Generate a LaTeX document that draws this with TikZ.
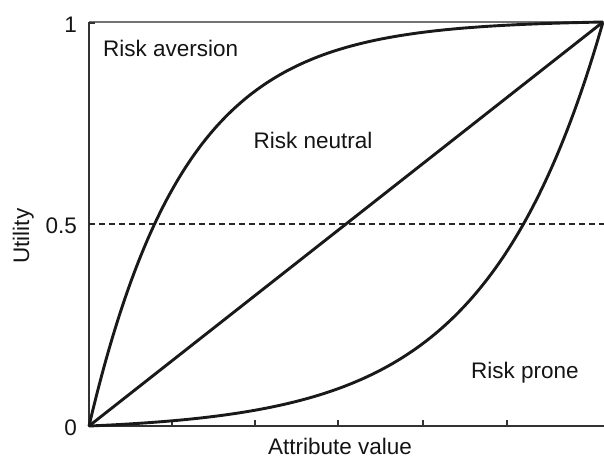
\documentclass[tikz,border=0pt]{standalone}
\usepackage{fontspec}
\setmainfont{Liberation Sans}
\begin{document}
\begin{tikzpicture}[x=1pt,y=-1pt,
  lbl/.style={inner sep=0pt,font=\fontsize{22.5}{27}\selectfont,text=black!92},
  curve/.style={line width=2.9pt,black!90,line join=round},
  axis/.style={line width=1.8pt,black!80},
  tick/.style={line width=1.2pt,black!80},
  half/.style={line width=1.2pt,dashed,dash pattern=on 6pt off 4pt,black!85}]
\useasboundingbox (0,0) rectangle (604,459);
% frame
\coordinate (O) at (89,426);
\coordinate (TL) at (89,22);
\coordinate (TR) at (604,22);
\coordinate (BR) at (604,426);
\coordinate (H0) at (89,224);
\coordinate (H1) at (604,224);
\draw[line width=1.8pt,black!55] (TL) -- (TR);
\draw[axis] (TL) -- (O) -- (BR);
% ticks
\foreach \tx in {172,255,338,423,507} \draw[tick] (\tx,426) -- (\tx,420);
\draw[tick] (89,224) -- (95,224);
\draw[tick] (89,23) -- (95,23);
% dashed half line
\draw[half] (H0) -- (H1);
% curves
\draw[curve] plot[domain=0:1,samples=160,variable=\t] ({89+514*\t},{426-405.83*(1-exp(-5.4*\t))});
\draw[curve] (O) -- (603,22);
\draw[curve] plot[domain=0:1,samples=160,variable=\t] ({89+514*\t},{426-5.0218*(exp(4.4*\t)-1)});
% labels
\node[lbl,anchor=base east] (y1) at (77,32) {1};
\node[lbl,anchor=base east] (y05) at (77,233) {0.5};
\node[lbl,anchor=base east] (y0) at (77,435) {0};
\node[lbl,rotate=90,anchor=base] (ylab) at (29,236) {Utility};
\node[lbl,anchor=base] (xlab) at (340,454) {Attribute value};
\node[lbl,anchor=base west] (ra) at (103,56) {Risk aversion};
\node[lbl,anchor=base] (rn) at (313,148) {Risk neutral};
\node[lbl,anchor=base] (rp) at (525,378) {Risk prone};
\end{tikzpicture}
\end{document}
